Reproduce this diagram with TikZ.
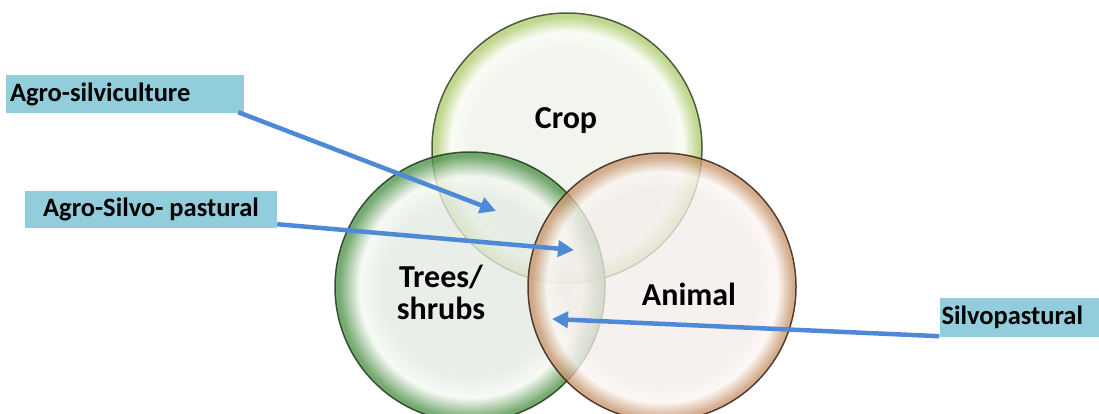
\documentclass[tikz,border=0pt]{standalone}
\usepackage{fontspec}
\setmainfont{Carlito}
\usetikzlibrary{arrows.meta}
\definecolor{cropc}{HTML}{EEF2E9}
\definecolor{cropr}{HTML}{F8FBF2}
\definecolor{crope}{HTML}{AFCB6E}
\definecolor{cropo}{HTML}{34452A}
\definecolor{treec}{HTML}{E3EBE2}
\definecolor{treer}{HTML}{F4F8F2}
\definecolor{treee}{HTML}{4F9249}
\definecolor{treeo}{HTML}{1E3A1E}
\definecolor{animc}{HTML}{F3ECE9}
\definecolor{animr}{HTML}{FBF6F3}
\definecolor{anime}{HTML}{C9976F}
\definecolor{animo}{HTML}{3A2417}
\definecolor{boxc}{HTML}{92CDDC}
\definecolor{arrc}{RGB}{78,137,216}
\pgfdeclareradialshading{cropshade}{\pgfpoint{0bp}{0bp}}{color(0bp)=(cropc); color(18bp)=(cropc); color(21.5bp)=(cropr); color(24.3bp)=(crope); color(25bp)=(crope); color(50bp)=(crope)}
\pgfdeclareradialshading{treeshade}{\pgfpoint{0bp}{0bp}}{color(0bp)=(treec); color(16.5bp)=(treec); color(20.5bp)=(treer); color(24.3bp)=(treee); color(25bp)=(treee); color(50bp)=(treee)}
\pgfdeclareradialshading{animshade}{\pgfpoint{0bp}{0bp}}{color(0bp)=(animc); color(18bp)=(animc); color(21.5bp)=(animr); color(24.3bp)=(anime); color(25bp)=(anime); color(50bp)=(anime)}
\tikzset{
  lbl/.style={fill=boxc, font=\fontsize{26.5}{29}\selectfont\bfseries, inner sep=0pt, anchor=center},
  ctext/.style={font=\fontsize{32}{35}\selectfont\bfseries, align=center},
  arr/.style={draw=arrc, line width=4.5pt, -{Triangle[length=16pt,width=16pt]}},
  bubble/.style={fill opacity=0.78}
}
\begin{document}
\begin{tikzpicture}[x=1pt,y=-1pt]
\useasboundingbox (0,0) rectangle (1099,414);
\clip (0,0) rectangle (1099,414);
% circles
\shade[shading=cropshade, bubble] (567,148) circle[radius=135pt];
\draw[cropo, line width=1.5pt, opacity=0.85] (567,148) circle[radius=135pt];
\shade[shading=treeshade, bubble] (470,287) circle[radius=135pt];
\draw[treeo, line width=1.5pt, opacity=0.85] (470,287) circle[radius=135pt];
\shade[shading=animshade, bubble] (662,287) circle[radius=134pt];
\draw[animo, line width=1.5pt, opacity=0.85] (662,287) circle[radius=134pt];
% circle labels
\node[ctext] (crop) at (566,121) {Crop};
\node[ctext] (trees) at (441,292) {Trees/\\[-3pt]shrubs};
\node[ctext] (animal) at (689,294) {Animal};
% boxes
\node[lbl, minimum width=238pt, minimum height=38pt, text width=230pt, align=left, inner xsep=4pt] (b1) at (125,94) {Agro-silviculture};
\node[lbl, minimum width=252pt, minimum height=37pt, align=center] (b2) at (151,209.5) {Agro-Silvo- pastural};
\node[lbl, minimum width=159pt, minimum height=39pt, text width=156pt, align=left, inner xsep=2pt] (b3) at (1019.5,317.5) {Silvopastural};
% arrow targets
\coordinate (t1) at (496,211);
\coordinate (t2) at (574,250);
\coordinate (t3) at (552,319);
\coordinate (s1) at ([xshift=-6pt,yshift=1pt]b1.south east);
\coordinate (s2) at ([yshift=4pt]b2.south east);
\coordinate (s3) at ([yshift=1pt]b3.south west);
\draw[arr] (s1) -- (t1);
\draw[arr] (s2) -- (t2);
\draw[arr] (s3) -- (t3);
\end{tikzpicture}
\end{document}
